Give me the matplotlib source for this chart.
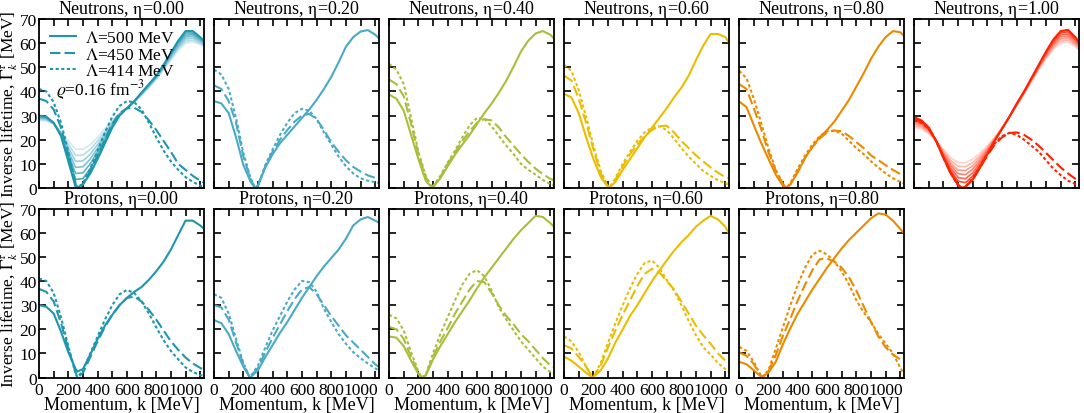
import numpy as np
import matplotlib
matplotlib.use('Agg')
import matplotlib.pyplot as plt
from matplotlib.colors import to_rgb
from matplotlib.ticker import MultipleLocator

plt.rcParams['font.family'] = ['Liberation Serif', 'DejaVu Serif']
plt.rcParams['mathtext.fontset'] = 'stix'
plt.rcParams['font.size'] = 12.5

# momentum grid [MeV]
k_mev = [0, 50, 100, 150, 200, 250, 300, 350, 400, 450, 500, 550, 600, 650,
         700, 750, 800, 850, 900, 950, 1000, 1050, 1100, 1125]

# Fermi momenta where the curves touch their minimum [MeV]
kf_n = [263, 280, 294, 308, 320, 331]
kf_p = [263, 244, 222, 194, 154]

# neutrons, eta = 0.00
n00_500 = [30, 29.5, 27, 21.5, 11, 0.3, 1.5, 6, 12, 18.5, 25, 30, 33, 36, 39.5, 43, 46.5, 51, 56, 61, 65, 65, 62.5, 61]
n00_450 = [37, 36, 32.5, 25, 13.5, 1.5, 1.5, 7, 13.5, 20, 26.5, 31, 33, 33.2, 31.5, 28, 24, 19.5, 15, 10, 7.5, 5, 3, 2.2]
n00_414 = [41, 40, 35.5, 27, 15, 2, 2, 8, 15.5, 23, 29.5, 34, 36, 35.5, 32.5, 27, 21, 15.5, 11, 7.5, 4.5, 2.5, 1, 0.5]
n00_band = [
    [28, 27.8, 26.5, 23.5, 19.5, 16, 16, 18, 21, 24.5, 28, 31, 33, 35.5, 38.5, 41.5, 45, 49, 53, 57, 60, 60.5, 59.5, 58.5],
    [28.3, 28.1, 26.6, 23.2, 18.1, 13.5, 13.6, 16, 19.5, 23.5, 27.5, 30.8, 33, 35.6, 38.7, 41.8, 45.3, 49.3, 53.5, 57.7, 60.8, 61.2, 60, 58.9],
    [28.7, 28.4, 26.7, 22.8, 16.7, 11, 11.2, 14, 18, 22.5, 27, 30.7, 33, 35.7, 38.8, 42, 45.5, 49.7, 54, 58.3, 61.7, 62, 60.5, 59.3],
    [29, 28.7, 26.8, 22.5, 15.3, 8.5, 8.8, 12, 16.5, 21.5, 26.5, 30.5, 33, 35.8, 39, 42.3, 45.8, 50, 54.5, 59, 62.5, 62.8, 61, 59.8],
    [29.3, 28.9, 26.8, 22.2, 13.8, 6, 6.3, 10, 15, 20.5, 26, 30.3, 33, 35.8, 39.2, 42.5, 46, 50.3, 55, 59.7, 63.3, 63.5, 61.5, 60.2],
    [29.7, 29.2, 26.9, 21.8, 12.4, 3.5, 3.9, 8, 13.5, 19.5, 25.5, 30.2, 33, 35.9, 39.3, 42.8, 46.3, 50.7, 55.5, 60.3, 64.2, 64.2, 62, 60.6],
]

# neutrons, eta = 0.20
n02_500 = [36, 35, 31, 21, 9.5, 2.5, 1, 8.5, 14, 18.5, 22, 25.5, 29, 32.5, 36.5, 41, 46, 52, 58.5, 62.5, 64.8, 65.4, 63.5, 62]
n02_450 = [42.5, 41, 36, 27, 13, 3.5, 1, 9, 15, 20, 24, 27.5, 30, 30.7, 28.5, 24, 19, 15, 11.5, 8.7, 6.8, 5.2, 4.2, 3.9]
n02_414 = [49, 47, 41, 29, 14.5, 4, 1.2, 9.5, 16, 22, 27, 31, 32.8, 32, 28.5, 23, 18, 13, 9, 6, 4, 3, 2.4, 2.2]

# neutrons, eta = 0.40
n04_500 = [38.7, 37, 32, 22, 12, 3, 0.3, 4, 9, 13.8, 18, 22, 26.5, 31, 35, 39.5, 44.5, 50.3, 56.5, 61, 64, 65, 63.5, 62]
n04_450 = [44.9, 43, 38, 26.5, 14, 4.5, 0.5, 4.5, 10, 14.8, 19.5, 23.5, 27, 28.5, 28, 25, 21, 17.5, 14, 10.8, 8, 5.7, 3.8, 3.2]
n04_414 = [51.4, 49, 43, 29, 15, 5, 0.8, 5, 10.5, 15.5, 21, 26, 29, 28.8, 25.5, 21.5, 17.5, 14, 10, 7.5, 5.5, 3.3, 1.6, 1.1]

# neutrons, eta = 0.60
n06_500 = [39, 37.5, 31, 21, 12, 4.5, 0.3, 2.5, 7.5, 12, 16.5, 21, 25, 29, 33, 37.5, 41.5, 46.5, 53, 59, 63.8, 63.8, 62.5, 60.3]
n06_450 = [46.5, 44.5, 37, 27, 16, 6, 0.5, 3.5, 9, 14, 18, 21.5, 24, 25.6, 25.8, 23, 19.5, 16.5, 13.5, 11, 8.5, 6.3, 4.5, 3.9]
n06_414 = [51, 48.5, 40.5, 29.5, 17.5, 7, 0.7, 4, 10, 15, 19.5, 23, 25, 25.5, 24, 20.5, 16.5, 13, 10, 7, 5, 3.2, 2, 1.4]

# neutrons, eta = 0.80
n08_500 = [35.8, 33.5, 26, 18.7, 12, 5.5, 0.8, 1.5, 6.5, 12.5, 17, 21, 24, 27.5, 32, 36.5, 42, 47.5, 53.5, 58.5, 62.5, 65, 64.5, 63]
n08_450 = [43, 41, 33, 24.5, 14.8, 7, 1.5, 1.5, 7, 12.5, 17, 20.5, 23, 23.8, 23.5, 21.5, 19, 16.5, 13.5, 11.5, 9.4, 7.5, 5.7, 5]
n08_414 = [48.5, 45.5, 37, 27, 16.5, 7.5, 1.8, 2, 8, 13.5, 18, 21.5, 23.5, 23.8, 22.5, 19.5, 16.5, 14, 11, 8.5, 6, 4, 2.5, 2]

# neutrons, eta = 1.00
n10_500 = [29.3, 28, 25, 19.5, 12.5, 6, 1.2, 0.5, 3.5, 8.5, 14, 19.5, 24.5, 29.5, 35, 40, 45.5, 51, 56.5, 61.5, 65, 65.5, 62.5, 60.4]
n10_450 = [28.5, 27.5, 24.5, 19.5, 12.5, 6, 1.2, 0.5, 3.5, 8.5, 13.5, 18, 21, 22.8, 23, 22, 20, 17.5, 14.5, 11.5, 8.5, 6, 3.8, 3]
n10_414 = [28, 27, 24.5, 19.5, 12.5, 6, 1.2, 0.6, 4, 9, 14, 18.5, 21.5, 22.8, 22, 20, 17.5, 15, 11.5, 8, 5.3, 3, 1.6, 1.2]
n10_band = [
    [25, 24.5, 22.5, 19.5, 16, 12.5, 10.5, 10.5, 12, 14.5, 17.5, 21, 25, 29.5, 34, 39, 44, 49, 53.5, 57.5, 60, 60.5, 58.5, 57],
    [25.7, 25.1, 22.9, 19.5, 15.4, 11.4, 9, 8.8, 10.6, 13.5, 16.9, 20.8, 24.9, 29.5, 34.2, 39.2, 44.3, 49.3, 54, 58.2, 60.8, 61.3, 59.2, 57.6],
    [26.4, 25.7, 23.3, 19.5, 14.8, 10.3, 7.4, 7.2, 9.2, 12.5, 16.3, 20.5, 24.8, 29.5, 34.3, 39.3, 44.5, 49.7, 54.5, 58.8, 61.7, 62.2, 59.8, 58.1],
    [27.2, 26.3, 23.8, 19.5, 14.3, 9.3, 5.9, 5.5, 7.8, 11.5, 15.8, 20.3, 24.8, 29.5, 34.5, 39.5, 44.8, 50, 55, 59.5, 62.5, 63, 60.5, 58.7],
    [27.9, 26.8, 24.2, 19.5, 13.7, 8.2, 4.3, 3.8, 6.3, 10.5, 15.2, 20, 24.7, 29.5, 34.7, 39.7, 45, 50.3, 55.5, 60.2, 63.3, 63.8, 61.2, 59.3],
    [28.6, 27.4, 24.6, 19.5, 13.1, 7.1, 2.8, 2.2, 4.9, 9.5, 14.6, 19.8, 24.6, 29.5, 34.8, 39.8, 45.3, 50.7, 56, 60.8, 64.2, 64.7, 61.8, 59.8],
]

# protons
p00_500 = [30, 29.3, 26.5, 19, 10.5, 3.5, 3.5, 9.5, 16, 21.5, 26, 30, 33, 35.5, 37.5, 40.5, 44, 48, 53, 59, 65, 65, 63, 61.7]
p00_450 = [36.7, 35.5, 31.5, 22.5, 12, 2, 2, 8.5, 15, 21, 26, 30, 33, 33.5, 31.5, 28, 24, 19.5, 15, 11.5, 8.3, 5.8, 4, 3.2]
p00_414 = [41, 40, 35, 25, 13, 1.5, 3, 10, 17, 24, 30, 34.5, 36.3, 35, 31.5, 26.5, 20.8, 15.5, 11, 7.5, 4.2, 2.3, 1, 0.7]

p02_500 = [23.8, 22.5, 18, 11, 4.5, 0.2, 3, 8.5, 13.5, 18.5, 23, 28, 33, 37.5, 42, 46, 49.5, 53, 57.5, 63, 65.5, 66.5, 65, 64.2]
p02_450 = [30, 29, 24, 14.5, 5.5, 0.3, 4, 10.5, 16.5, 22, 27.5, 32.5, 36.5, 37.5, 34.5, 30, 25.5, 21.5, 17.5, 14.5, 11.5, 8.5, 5.5, 4.4]
p02_414 = [34.5, 33, 26.5, 16, 6, 0.5, 5, 12.5, 19.5, 25.5, 31.5, 36.5, 40, 39.5, 35.5, 28.5, 23, 18, 14, 10.5, 8, 5.8, 3.8, 3]

p04_500 = [17, 16.5, 13, 7, 1.5, 0.8, 7.5, 13, 18, 23, 27.5, 32, 37, 41.5, 45.5, 49.5, 53.5, 57.5, 61, 64, 67, 66.5, 64, 62.5]
p04_450 = [21, 20, 16, 8.5, 2, 1, 8.5, 15, 20.5, 26.5, 31.5, 36.5, 40, 39.5, 35, 29.8, 25.5, 22, 18, 15, 11.5, 8, 5, 4.4]
p04_414 = [26, 24.5, 19.5, 10.5, 2.5, 1.2, 10, 18, 25, 32, 38.5, 43, 44.5, 42, 36, 29, 24, 19.5, 15, 11.5, 8, 4.5, 2.3, 1.7]

p06_500 = [8.6, 7, 4.5, 2, 0.2, 3, 8, 14.5, 20, 25.5, 30, 35, 40, 44.3, 48.5, 52.5, 56, 59, 62.5, 65, 67, 65.5, 62.5, 59.7]
p06_450 = [13.4, 12, 8.5, 4.5, 0.3, 5, 12.5, 19.5, 26, 32, 38, 43, 45, 43.5, 40, 36.5, 31.5, 26.5, 21.5, 17.5, 14, 10, 7, 5.8]
p06_414 = [17, 15, 10.5, 4.5, 0.3, 6, 14.5, 22.5, 30, 37, 43, 47.5, 48.5, 45.5, 40.5, 36, 30, 23.5, 17.5, 12.5, 9.5, 6, 3.5, 2.3]

p08_500 = [6.5, 5.5, 3, 0.3, 2, 6.5, 14, 20.5, 26.5, 31.5, 36.5, 41, 45.5, 49.5, 53.5, 57, 60, 63, 66, 68, 67.5, 65, 61.5, 59.8]
p08_450 = [10.4, 9, 5.5, 0.5, 2.5, 9.3, 17.5, 24.5, 32, 38.5, 44.5, 49, 49.3, 48, 45.5, 41.5, 36, 29.5, 23, 17, 12.5, 9.5, 7.5, 6.8]
p08_414 = [12.7, 11, 6.5, 0.5, 3, 12, 21, 30, 38.5, 45.5, 51, 52.5, 51, 48, 44, 38.5, 32, 27, 23, 18, 14, 10, 4, 1.5]

# value at the minimum (solid, dashed, dotted); protons eta=0 solid stays above zero
min_p00 = [2.5, 0, 0]

eta_labels = ['0.00', '0.20', '0.40', '0.60', '0.80', '1.00']
colors = ['#1e96ae', '#4aaac6', '#abbd3b', '#ebbd00', '#eb8a00', '#ff2200']

neutrons = [(n00_500, n00_450, n00_414, n00_band),
            (n02_500, n02_450, n02_414, None),
            (n04_500, n04_450, n04_414, None),
            (n06_500, n06_450, n06_414, None),
            (n08_500, n08_450, n08_414, None),
            (n10_500, n10_450, n10_414, n10_band)]
protons = [(p00_500, p00_450, p00_414, None),
           (p02_500, p02_450, p02_414, None),
           (p04_500, p04_450, p04_414, None),
           (p06_500, p06_450, p06_414, None),
           (p08_500, p08_450, p08_414, None)]

dash_style = (0, (5, 2))
dot_style = (0, (1.5, 1.2))
lw = 1.5


def lighten(c, w):
    r = np.array(to_rgb(c))
    return tuple(r + (1 - r) * w)


def with_min(vals, kf, vmin):
    # add the read minimum point at the Fermi momentum
    kk = np.array(k_mev, float)
    vv = np.array(vals, float)
    i = np.searchsorted(kk, kf)
    return np.insert(kk, i, kf), np.insert(vv, i, vmin)


fig, axes = plt.subplots(2, 6, figsize=(10.84, 4.14), dpi=100, sharex=True, sharey=True)
fig.subplots_adjust(left=0.036, right=0.9954, bottom=0.0857, top=0.9517,
                    wspace=0.062, hspace=0.122)


def draw(ax, curves, c, kf, mins=(0, 0, 0)):
    s, d, o, band = curves
    if band is not None:
        nb = len(band)
        for i, b in enumerate(band):
            w = 0.8 - 0.62 * i / (nb - 1)
            ax.plot(k_mev, b, color=lighten(c, w), lw=1.2)
    ax.plot(*with_min(s, kf, mins[0]), color=c, lw=lw, label=r'$\Lambda$=500 MeV')
    ax.plot(*with_min(d, kf, mins[1]), color=c, lw=lw, ls=dash_style, label=r'$\Lambda$=450 MeV')
    ax.plot(*with_min(o, kf, mins[2]), color=c, lw=lw, ls=dot_style, label=r'$\Lambda$=414 MeV')


eta_sym = r'$\mathrm{\eta}$'
for j in range(6):
    ax = axes[0, j]
    draw(ax, neutrons[j], colors[j], kf_n[j])
    ax.set_title('Neutrons, ' + eta_sym + '=' + eta_labels[j], fontsize=13, pad=2)
for j in range(5):
    ax = axes[1, j]
    draw(ax, protons[j], colors[j], kf_p[j], min_p00 if j == 0 else (0, 0, 0))
    ax.set_title('Protons, ' + eta_sym + '=' + eta_labels[j], fontsize=13, pad=2)
    ax.set_xlabel('Momentum, k [MeV]', fontsize=13, labelpad=-1)
axes[1, 5].axis('off')

for ax in axes.flat:
    ax.set_xlim(0, 1125)
    ax.set_ylim(0, 70)
    ax.xaxis.set_major_locator(MultipleLocator(200))
    ax.xaxis.set_minor_locator(MultipleLocator(100))
    ax.yaxis.set_major_locator(MultipleLocator(10))
    ax.tick_params(which='both', direction='in', top=True, right=True,
                   length=5, width=1.2, labelsize=12.5)
    ax.tick_params(axis='y', pad=1.5)
    ax.tick_params(axis='x', pad=3)
    for sp in ax.spines.values():
        sp.set_linewidth(1.3)

for r in range(2):
    axes[r, 0].set_ylabel(r'Inverse lifetime, $\Gamma_k^\tau$ [MeV]', fontsize=12.5, labelpad=0)

leg = axes[0, 0].legend(loc='upper left', frameon=False, handlelength=1.5,
                        labelspacing=0.0, borderaxespad=0.25, handletextpad=0.5,
                        fontsize=12.5)
axes[0, 0].text(0.1, 0.585, r'$\varrho$=0.16 fm$^{-3}$', transform=axes[0, 0].transAxes,
                fontsize=12.5, va='center')

fig.savefig('out.png', dpi=100)
